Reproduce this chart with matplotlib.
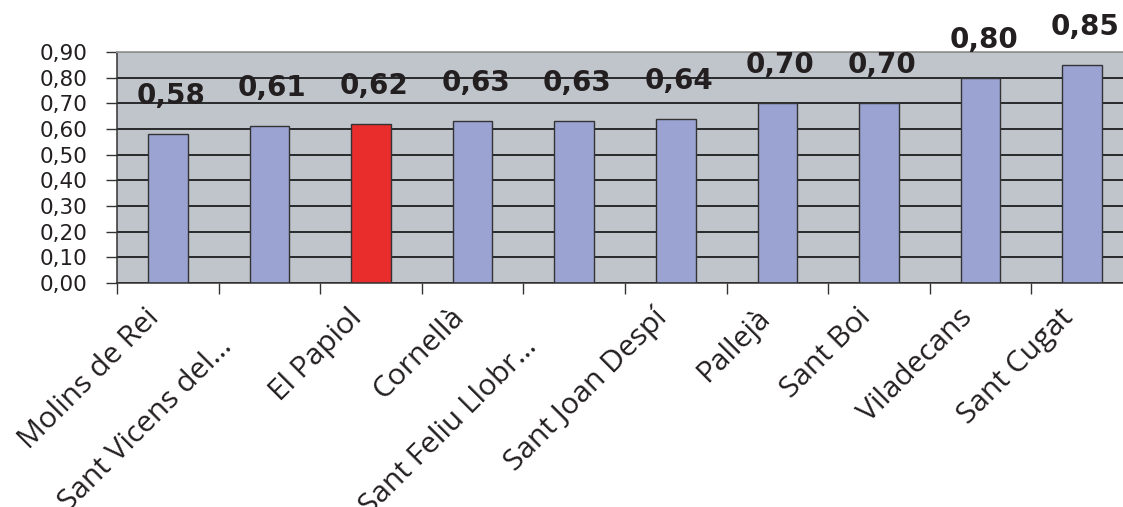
import matplotlib.pyplot as plt
from matplotlib.ticker import FuncFormatter, FixedLocator

# datos
municipis = ["Molins de Rei", "Sant Vicens del\u2026", "El Papiol", "Cornellà",
             "Sant Feliu Llobr\u2026", "Sant Joan Despí", "Pallejà", "Sant Boi",
             "Viladecans", "Sant Cugat"]
valors = [0.58, 0.61, 0.62, 0.63, 0.63, 0.64, 0.70, 0.70, 0.80, 0.85]
destacat = "El Papiol"

BG = "#C0C4CB"
BLAU = "#9BA3D3"
VERMELL = "#E92D2D"

fig = plt.figure(figsize=(11.23, 5.07), dpi=100)
ax = fig.add_axes([117 / 1123, 224 / 507, 1016 / 1123, 231 / 507])
ax.set_facecolor(BG)

x = list(range(len(municipis)))
colors = [VERMELL if m == destacat else BLAU for m in municipis]
ax.bar(x, valors, width=0.39, color=colors, edgecolor="#333333", linewidth=1.0, zorder=2)

ax.set_xlim(-0.5, len(municipis) - 0.5)
ax.set_ylim(0, 0.9)
ax.set_yticks([i / 10 for i in range(10)])
ax.yaxis.set_major_formatter(FuncFormatter(lambda v, p: f"{v:.2f}".replace(".", ",")))
ax.tick_params(axis="y", length=8, width=1, color="#333333", pad=13,
               labelsize=15.5, labelcolor="#231f20")
ax.yaxis.grid(True, color="black", linewidth=1.1)
ax.set_axisbelow(True)

# ticks a les vores de categoria, etiquetes a mà
ax.xaxis.set_major_locator(FixedLocator([i - 0.5 for i in range(len(municipis) + 1)]))
ax.set_xticklabels([])
ax.tick_params(axis="x", length=8, width=1, color="#333333")

for s in ["left", "bottom"]:
    ax.spines[s].set_color("#333333")
    ax.spines[s].set_linewidth(1.1)
ax.spines["top"].set_color("#9a9a9a")
ax.spines["top"].set_linewidth(1.3)
ax.spines["right"].set_visible(False)

# etiquetes de valor
for i, v in enumerate(valors):
    ax.annotate(f"{v:.2f}".replace(".", ","), xy=(i, v), xytext=(3, 38),
                textcoords="offset pixels", ha="center", va="center",
                fontsize=20, fontweight="bold", color="#231f20",
                annotation_clip=False)

# etiquetes de l'eix x (girades 45°)
for i, m in enumerate(municipis):
    extra = 29 if m.endswith("\u2026") else 0
    ax.annotate(m, xy=(i, 0), xycoords=("data", "axes fraction"),
                xytext=(-23 - extra, -20 - extra), textcoords="offset pixels",
                ha="right", va="top", rotation=45, rotation_mode="anchor",
                fontsize=21.5, family="Open Sans", color="#231f20",
                annotation_clip=False)

fig.savefig("out.png", dpi=100)
